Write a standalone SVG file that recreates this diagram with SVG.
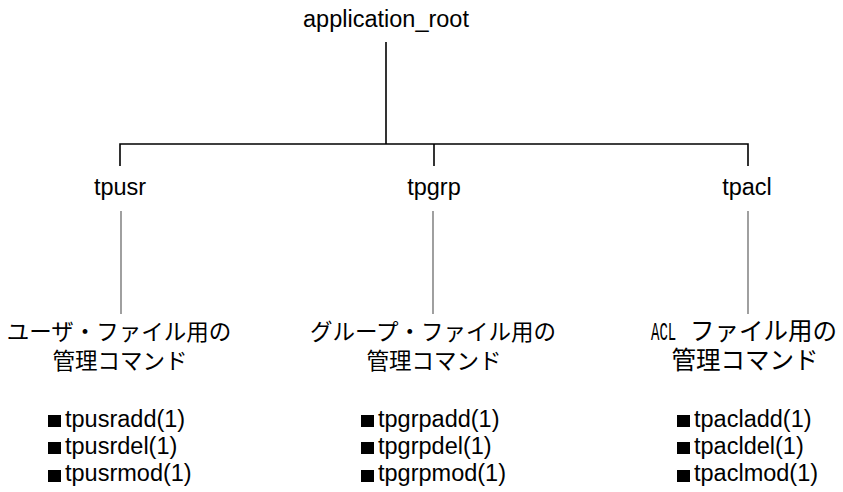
<svg xmlns="http://www.w3.org/2000/svg" width="843" height="492" viewBox="0 0 843 492">
<style>
.lat{font-family:"Liberation Sans",Arial,sans-serif;font-size:23.5px;fill:#000}
.jp{font-family:"Noto Sans CJK JP","Noto Sans CJK SC",sans-serif;font-size:22.5px;fill:#000}
.jp3{font-family:"Noto Sans CJK JP","Noto Sans CJK SC",sans-serif;font-size:24.5px;fill:#000}
.mono{font-family:"Liberation Mono","DejaVu Sans Mono",monospace;font-size:26px;fill:#000}
.c{text-anchor:middle}
.blk{fill:none;stroke:#000;stroke-width:1.6}
.gry{fill:none;stroke:#888;stroke-width:1.6}
</style>
<rect width="843" height="492" fill="#fff"/>
<g id="connectors">
<line class="blk" x1="386" y1="42" x2="386" y2="144"/>
<polyline class="blk" points="120,166 120,144 748,144 748,166"/>
<line class="blk" x1="434" y1="144" x2="434" y2="166"/>
<line class="gry" x1="121" y1="211" x2="121" y2="314"/>
<line class="gry" x1="433" y1="211" x2="433" y2="314"/>
<line class="gry" x1="748" y1="211" x2="748" y2="314"/>
</g>
<g id="root"><text class="lat c" x="386" y="27">application_root</text></g>
<g id="tpusr"><text class="lat c" x="120" y="195">tpusr</text></g>
<g id="tpgrp"><text class="lat c" x="434" y="195">tpgrp</text></g>
<g id="tpacl"><text class="lat c" x="747" y="195">tpacl</text></g>
<g id="usr-cmds">
<text class="jp c" x="119" y="340">ユーザ・ファイル用の</text>
<text class="jp c" x="120" y="369">管理コマンド</text>
<rect x="48" y="415" width="13" height="12"/>
<rect x="48" y="442" width="13" height="12"/>
<rect x="48" y="470" width="13" height="12"/>
<text class="lat" x="65" y="427">tpusradd(1)</text>
<text class="lat" x="65" y="454">tpusrdel(1)</text>
<text class="lat" x="65" y="481">tpusrmod(1)</text>
</g>
<g id="grp-cmds">
<text class="jp c" x="433" y="340">グループ・ファイル用の</text>
<text class="jp c" x="434" y="369">管理コマンド</text>
<rect x="361" y="415" width="13" height="12"/>
<rect x="361" y="442" width="13" height="12"/>
<rect x="361" y="470" width="13" height="12"/>
<text class="lat" x="378" y="427">tpgrpadd(1)</text>
<text class="lat" x="378" y="454">tpgrpdel(1)</text>
<text class="lat" x="378" y="481">tpgrpmod(1)</text>
</g>
<g id="acl-cmds">
<text class="mono" transform="translate(651,340) scale(0.54,1)">ACL</text>
<text class="jp3" x="690" y="340">ファイル用の</text>
<text class="jp3 c" x="745" y="369">管理コマンド</text>
<rect x="677" y="415" width="13" height="12"/>
<rect x="677" y="442" width="13" height="12"/>
<rect x="677" y="470" width="13" height="12"/>
<text class="lat" x="694" y="427">tpacladd(1)</text>
<text class="lat" x="694" y="454">tpacldel(1)</text>
<text class="lat" x="694" y="481">tpaclmod(1)</text>
</g>
</svg>
